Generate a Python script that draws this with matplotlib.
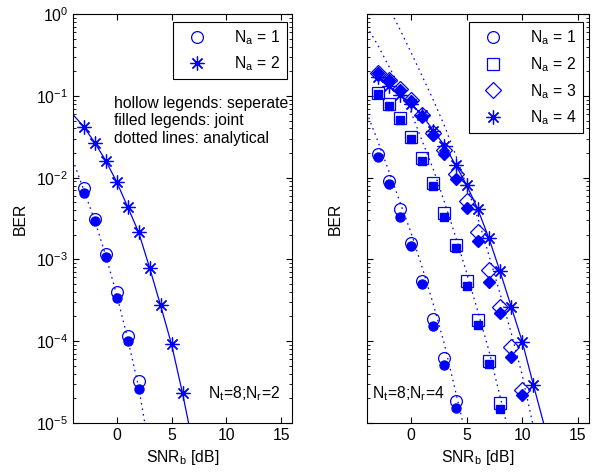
import numpy as np
import matplotlib
matplotlib.use("Agg")
import matplotlib.pyplot as plt
from matplotlib.lines import Line2D

plt.rcParams['font.family'] = ['Liberation Sans', 'DejaVu Sans']
plt.rcParams['mathtext.fontset'] = 'custom'
plt.rcParams['mathtext.rm'] = 'Liberation Sans'
plt.rcParams['mathtext.it'] = 'Liberation Sans'
plt.rcParams['mathtext.default'] = 'regular'
plt.rcParams['font.size'] = 11

# ---------------- data: left panel (Nt=8, Nr=2) ----------------
snr_L_na1 = [-3, -2, -1, 0, 1, 2]
ber_L_na1_sep = [7.4e-3, 3.1e-3, 1.16e-3, 4.0e-4, 1.15e-4, 3.2e-5]
ber_L_na1_joint = [6.4e-3, 2.95e-3, 1.08e-3, 3.4e-4, 1.0e-4, 2.6e-5]
snr_L_na1_ana = [-4, -3, -2, -1, 0, 1, 2, 3]
ber_L_na1_ana = [1.66e-2, 7.1e-3, 3.0e-3, 1.12e-3, 3.7e-4, 1.07e-4, 2.75e-5, 4.5e-6]
snr_L_na2 = [-4, -3, -2, -1, 0, 1, 2, 3, 4, 5, 6, 7]
ber_L_na2 = [5.97e-2, 4.21e-2, 2.69e-2, 1.62e-2, 8.9e-3, 4.4e-3, 2.15e-3,
             7.9e-4, 2.74e-4, 9.1e-5, 2.3e-5, 5.0e-6]

# ---------------- data: right panel (Nt=8, Nr=4) ----------------
snr_R_na1 = [-3, -2, -1, 0, 1, 2, 3, 4]
ber_R_na1_sep = [1.95e-2, 9.1e-3, 4.1e-3, 1.6e-3, 5.5e-4, 1.85e-4, 6.2e-5, 1.85e-5]
ber_R_na1_joint = [1.78e-2, 8.3e-3, 3.3e-3, 1.46e-3, 5.0e-4, 1.53e-4, 5.1e-5, 1.53e-5]
snr_R_na2 = [-3, -2, -1, 0, 1, 2, 3, 4, 5, 6, 7, 8]
ber_R_na2_sep = [0.110, 0.080, 0.053, 0.0318, 0.0173, 8.5e-3, 3.66e-3, 1.5e-3,
                 5.5e-4, 1.81e-4, 5.75e-5, 1.73e-5]
ber_R_na2_joint = [0.105, 0.076, 0.051, 0.0298, 0.0161, 8.0e-3, 3.27e-3, 1.37e-3,
                   4.7e-4, 1.55e-4, 5.2e-5, 1.46e-5]
snr_R_na3 = [-3, -2, -1, 0, 1, 2, 3, 4, 5, 6, 7, 8, 9, 10]
ber_R_na3_sep = [0.193, 0.157, 0.122, 0.089, 0.058, 0.0356, 0.0218, 0.0111,
                 5.2e-3, 2.15e-3, 7.4e-4, 2.6e-4, 8.4e-5, 2.5e-5]
ber_R_na3_joint = [0.19, 0.155, 0.12, 0.087, 0.057, 0.0333, 0.0195, 9.6e-3,
                   4.3e-3, 1.69e-3, 5.3e-4, 2.23e-4, 6.3e-5, 2.2e-5]
snr_R_na4 = [-3, -2, -1, 0, 1, 2, 3, 4, 5, 6, 7, 8, 9, 10, 11, 12]
ber_R_na4 = [0.169, 0.133, 0.103, 0.0798, 0.058, 0.0376, 0.0247, 0.0143, 8.1e-3,
             4.1e-3, 1.81e-3, 7.1e-4, 2.64e-4, 9.8e-5, 2.9e-5, 9.0e-6]
snr_R_ana1 = [-4, -3, -2, -1, 0, 1, 2, 3, 4, 5]
ber_R_ana1 = [6.3e-2, 2.8e-2, 1.2e-2, 5.0e-3, 2.1e-3, 7.9e-4, 2.8e-4, 9.1e-5, 2.4e-5, 6.3e-6]
snr_R_ana2 = [-4, -3, -2, -1, 0, 1, 2, 3, 4, 5, 6, 7, 8, 9]
ber_R_ana2 = [0.71, 0.42, 0.23, 0.126, 0.063, 0.028, 0.0126, 5.0e-3, 1.9e-3,
              6.8e-4, 2.3e-4, 7.6e-5, 2.1e-5, 5.6e-6]
snr_R_ana3 = [-2, -1, 0, 1, 2, 3, 4, 5, 6, 7, 8, 9, 10, 11]
ber_R_ana3 = [1.2, 0.65, 0.34, 0.174, 0.089, 0.043, 0.019, 7.9e-3, 3.2e-3,
              1.12e-3, 3.8e-4, 1.26e-4, 3.8e-5, 8.9e-6]

xticks = [0, 5, 10, 15]
labels_L = ['N$_a$ = 1', 'N$_a$ = 2']
labels_R = ['N$_a$ = 1', 'N$_a$ = 2', 'N$_a$ = 3', 'N$_a$ = 4']

BLUE = (0, 0, 1)
AST = (8, 2, 0)
dot = dict(color=BLUE, lw=0.9, ls=(0, (1.3, 3.2)))
MS_H = 8.5
MS_F = 6.5
FS = 11.3

fig = plt.figure(figsize=(6.07, 4.73), dpi=100)
axL = fig.add_axes([0.1198, 0.1063, 0.3618, 0.8635])
axR = fig.add_axes([0.6041, 0.1063, 0.3662, 0.8635])

for ax in (axL, axR):
    ax.set_yscale('log')
    ax.set_xlim(-4, 16)
    ax.set_ylim(1e-5, 1)
    ax.set_xticks(xticks)
    ax.tick_params(which='both', direction='in', top=True, right=True, labelsize=FS)
    ax.tick_params(which='major', length=4)
    ax.tick_params(which='minor', length=2)
    ax.set_xlabel('SNR$_b$ [dB]', fontsize=FS, labelpad=4)
    ax.set_ylabel('BER', fontsize=FS)
    for s in ax.spines.values():
        s.set_linewidth(0.8)

# left panel
axL.plot(snr_L_na1_ana, ber_L_na1_ana, **dot)
axL.plot(snr_L_na1, ber_L_na1_sep, ls='none', marker='o', ms=MS_H, mfc='none', mec=BLUE, mew=0.9)
axL.plot(snr_L_na1, ber_L_na1_joint, ls='none', marker='o', ms=MS_F, mfc=BLUE, mec=BLUE)
axL.plot(snr_L_na2, ber_L_na2, color=BLUE, lw=0.9, marker=AST, ms=10, mew=0.9,
         markevery=slice(1, len(snr_L_na2) - 1))
axL.yaxis.set_label_coords(-0.205, 0.5)
hL = [Line2D([], [], ls='none', marker='o', ms=MS_H, mfc='none', mec=BLUE, mew=0.9),
      Line2D([], [], ls='none', marker=AST, ms=10, color=BLUE, mew=0.9)]
legL = axL.legend(hL, labels_L, loc='upper right', bbox_to_anchor=(0.9745, 0.980),
                  borderaxespad=0, fancybox=False, edgecolor='black', framealpha=1,
                  handlelength=2.2, handletextpad=1.3, labelspacing=0.45, borderpad=0.4,
                  fontsize=FS)
legL.get_frame().set_linewidth(0.8)
axL.text(0.189, 0.80, 'hollow legends: seperate\nfilled legends: joint\ndotted lines: analytical',
         transform=axL.transAxes, ha='left', va='top', fontsize=FS, linespacing=1.2)
axL.text(0.617, 0.07, 'N$_t$=8;N$_r$=2', transform=axL.transAxes, ha='left', va='center', fontsize=FS)

# right panel
axR.plot(snr_R_ana1, ber_R_ana1, **dot)
axR.plot(snr_R_ana2, ber_R_ana2, **dot)
axR.plot(snr_R_ana3, ber_R_ana3, **dot)
axR.plot(snr_R_na1, ber_R_na1_sep, ls='none', marker='o', ms=MS_H, mfc='none', mec=BLUE, mew=0.9)
axR.plot(snr_R_na1, ber_R_na1_joint, ls='none', marker='o', ms=MS_F, mfc=BLUE, mec=BLUE)
axR.plot(snr_R_na2, ber_R_na2_sep, ls='none', marker='s', ms=MS_H - 0.5, mfc='none', mec=BLUE, mew=0.9)
axR.plot(snr_R_na2, ber_R_na2_joint, ls='none', marker='s', ms=MS_F - 0.5, mfc=BLUE, mec=BLUE)
axR.plot(snr_R_na3, ber_R_na3_sep, ls='none', marker='D', ms=MS_H - 0.8, mfc='none', mec=BLUE, mew=0.9)
axR.plot(snr_R_na3, ber_R_na3_joint, ls='none', marker='D', ms=MS_F - 0.5, mfc=BLUE, mec=BLUE)
axR.plot(snr_R_na4, ber_R_na4, color=BLUE, lw=0.9, marker=AST, ms=10, mew=0.9,
         markevery=slice(0, len(snr_R_na4) - 1))
axR.tick_params(labelleft=False)
axR.yaxis.set_label_coords(-0.107, 0.5)
hR = [Line2D([], [], ls='none', marker='o', ms=MS_H, mfc='none', mec=BLUE, mew=0.9),
      Line2D([], [], ls='none', marker='s', ms=MS_H - 0.5, mfc='none', mec=BLUE, mew=0.9),
      Line2D([], [], ls='none', marker='D', ms=MS_H - 0.8, mfc='none', mec=BLUE, mew=0.9),
      Line2D([], [], ls='none', marker=AST, ms=10, color=BLUE, mew=0.9)]
legR = axR.legend(hR, labels_R, loc='upper right', bbox_to_anchor=(0.9735, 0.980),
                  borderaxespad=0, fancybox=False, edgecolor='black', framealpha=1,
                  handlelength=2.2, handletextpad=1.3, labelspacing=0.5, borderpad=0.4,
                  fontsize=FS)
legR.get_frame().set_linewidth(0.8)
axR.text(0.025, 0.07, 'N$_t$=8;N$_r$=4', transform=axR.transAxes, ha='left', va='center', fontsize=FS)

fig.savefig('out.png', dpi=100)
